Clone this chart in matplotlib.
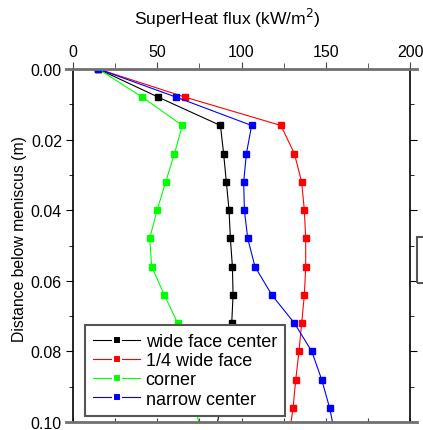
import matplotlib
matplotlib.use("Agg")
import matplotlib.pyplot as plt
from matplotlib.lines import Line2D
from matplotlib.patches import Rectangle

plt.rcParams['font.family'] = ['Liberation Sans', 'DejaVu Sans']

# depth below meniscus (m)
depth = [0.0, 0.008, 0.016, 0.024, 0.032, 0.040, 0.048, 0.056, 0.064, 0.072, 0.080, 0.088, 0.096, 0.104]

# superheat flux (kW/m2)
wide_center = [15, 50.7, 87.5, 89.4, 91.0, 92.6, 93.4, 94.6, 95.0, 94.2, 92.0, 90.0, 87.5, 84.0]
quarter_wide = [15, 66.7, 123.4, 131.4, 135.7, 137.3, 138.1, 138.1, 137.3, 135.7, 134.1, 132.2, 130.6, 128.2]
corner = [15, 41.2, 64.9, 60.2, 55.0, 49.9, 45.5, 46.7, 54.2, 62.1, 65.5, 69.0, 72.8, 76.4]
narrow_center = [15, 61.4, 106.0, 102.9, 101.3, 101.7, 103.7, 108.0, 118.0, 131.4, 141.7, 147.6, 152.3, 155.7]

series = [
    ("wide face center", wide_center, "#000000"),
    ("1/4 wide face", quarter_wide, "#ff0000"),
    ("corner", corner, "#00ff00"),
    ("narrow center", narrow_center, "#0000ff"),
]

fig = plt.figure(figsize=(4.23, 4.31), dpi=100)
ax = fig.add_axes([73 / 423, 1 - 423 / 431, 337 / 423, 353 / 431])

handles = []
for name, vals, col in series:
    ax.plot(vals, depth, color=col, lw=0.8, marker="s", ms=5, mec=col, mfc=col)
    handles.append(Line2D([], [], color=col, lw=0.8, marker="s", ms=6,
                          mfc=col, mec="white", mew=1.5, label=name))

ax.set_xlim(0, 200)
ax.set_ylim(0.10, 0.0)
ax.set_xticks([0, 50, 100, 150, 200])
ax.set_xticks([25, 75, 125, 175], minor=True)
ax.set_yticks([0.0, 0.02, 0.04, 0.06, 0.08, 0.10])
ax.set_yticks([0.01, 0.03, 0.05, 0.07, 0.09], minor=True)
ax.set_yticklabels(["0.00", "0.02", "0.04", "0.06", "0.08", "0.10"])

ax.xaxis.tick_top()
ax.tick_params(axis="x", which="both", top=True, bottom=False, direction="out",
               labelsize=11.5, pad=2, color="#444444")
ax.tick_params(axis="x", which="major", length=5)
ax.tick_params(axis="x", which="minor", length=4)
ax.tick_params(axis="y", which="both", left=True, right=True, direction="out",
               labelsize=11.5, pad=3)
ax.tick_params(axis="y", which="major", length=5)
ax.tick_params(axis="y", which="minor", length=3)

# bottom ticks point inward
sec = ax.secondary_xaxis("bottom")
sec.set_xticks([0, 25, 50, 75, 100, 125, 150, 175, 200])
sec.tick_params(direction="in", length=3, labelbottom=False, color="#444444")
sec.spines["bottom"].set_visible(False)

for s in ["top", "bottom"]:
    ax.spines[s].set_visible(False)
for s in ["left", "right"]:
    ax.spines[s].set_linewidth(1.2)

# gray axis lines at top and bottom, a bit wider than the frame
for yy in (0.0, 1.0):
    ax.add_line(Line2D([-0.02, 1.02], [yy, yy], transform=ax.transAxes,
                       color="#707070", lw=2, clip_on=False, zorder=5))

leg = ax.legend(handles=handles, loc="lower left", bbox_to_anchor=(0.036, 0.018),
                borderaxespad=0, fontsize=13, frameon=True, fancybox=False,
                framealpha=1, handlelength=2.6, handletextpad=0.3,
                labelspacing=0.12, borderpad=0.45)
leg.get_frame().set_edgecolor("#555555")
leg.get_frame().set_linewidth(1.5)
leg.set_zorder(10)

# partial box clipped at the right edge
fig.patches.append(Rectangle((417 / 423, 1 - 284 / 431), 0.05, 46 / 431,
                             transform=fig.transFigure, fill=False,
                             edgecolor="#555555", lw=1.5))

fig.text(227 / 423, 1 - 18 / 431, "SuperHeat flux (kW/m$^2$)", ha="center",
         va="center", fontsize=12.6)
fig.text(20 / 423, 1 - 239 / 431, "Distance below meniscus (m)", ha="center",
         va="center", rotation=90, fontsize=11.3)

fig.savefig("out.png", dpi=100)
